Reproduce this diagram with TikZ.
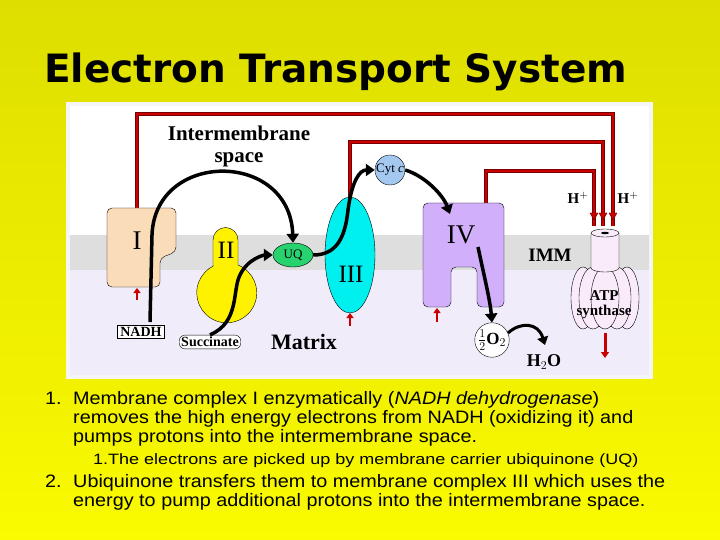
\documentclass[tikz,border=0pt]{standalone}
\usepackage{fontspec}
\setmainfont{Liberation Serif}
\newfontfamily\sansf{Liberation Sans}
\newfontfamily\titlef{DejaVu Sans}
\usetikzlibrary{arrows.meta,shapes.geometric}
\definecolor{bgY}{RGB}{222,222,0}
\definecolor{bgY2}{RGB}{250,250,0}
\definecolor{memb}{RGB}{222,222,222}
\definecolor{matrixc}{RGB}{240,236,250}
\definecolor{tanc}{RGB}{250,220,185}
\definecolor{cyanc}{RGB}{0,240,240}
\definecolor{purc}{RGB}{210,175,250}
\definecolor{greenc}{RGB}{40,210,110}
\definecolor{cytc}{RGB}{165,200,240}
\definecolor{redc}{RGB}{200,0,0}
\definecolor{dredc}{RGB}{120,0,0}
\definecolor{sync}{RGB}{250,235,250}
\tikzset{
 lbl/.style={font=\bfseries},
 pline/.style={dredc,line width=4.5pt},
 pline2/.style={redc,line width=2.5pt},
 earrow/.style={line width=3.5pt,-{Triangle[length=9pt,width=12pt]}},
 smallred/.style={redc,line width=2.5pt,-{Triangle[length=5pt,width=7pt]}},
 body/.style={anchor=base west,inner sep=0pt,xscale=1.1,transform shape,font=\sansf\fontsize{18}{20}\selectfont},
 subbody/.style={anchor=base west,inner sep=0pt,xscale=1.2,transform shape,font=\sansf\fontsize{15}{17}\selectfont}
}
\begin{document}
\begin{tikzpicture}[x=1pt,y=-1pt]
\useasboundingbox (0,0) rectangle (720,540);
\shade[top color=bgY,bottom color=bgY2] (0,0) rectangle (720,540);
\node[anchor=base west,inner sep=0pt,font=\titlef\bfseries\fontsize{39}{44}\selectfont] (title) at (44,83) {Electron Transport System};
% panel
\fill[white!92!gray] (66,102) rectangle (653,379);
\fill[white] (70,106) rectangle (649,375);
\fill[memb] (70,235) rectangle (649,270);
\fill[matrixc] (70,270) rectangle (649,375);
% proton lines
\coordinate (p1a) at (137,208); \coordinate (p1b) at (137,114); \coordinate (p1c) at (613,114); \coordinate (p1d) at (613,220);
\coordinate (p2a) at (350,198); \coordinate (p2b) at (350,142); \coordinate (p2c) at (603,142); \coordinate (p2d) at (603,220);
\coordinate (p3a) at (486,203); \coordinate (p3b) at (486,171); \coordinate (p3c) at (594,171); \coordinate (p3d) at (594,220);
\foreach \s in {pline,pline2}{
 \draw[\s] (p1a) -- (p1b) -- (p1c) -- ([yshift=-6]p1d);
 \draw[\s] (p2a) -- (p2b) -- (p2c) -- ([yshift=-6]p2d);
 \draw[\s] (p3a) -- (p3b) -- (p3c) -- ([yshift=-6]p3d);
}
\foreach \p in {p1d,p2d,p3d}{\fill[redc,draw=dredc] (\p) -- ++(-4,-7) -- ++(8,0) -- cycle;}
\node[lbl,font=\bfseries\fontsize{15}{15}\selectfont] (hp1) at (578,198) {H$^{+}$};
\node[lbl,font=\bfseries\fontsize{15}{15}\selectfont] (hp2) at (628,198) {H$^{+}$};
% labels
\node[lbl,font=\bfseries\fontsize{21}{22}\selectfont,align=center] (ims) at (239,146) {Intermembrane\\space};
\node[lbl,font=\bfseries\fontsize{22}{22}\selectfont] (matrix) at (304,342) {Matrix};
\node[lbl,font=\bfseries\fontsize{19}{20}\selectfont] (imm) at (550,255) {IMM};
% complex I
\draw[fill=tanc,rounded corners=5pt] (107,208) -- (176,208) -- (176,252) -- (160,258) -- (160,287) -- (107,287) -- cycle;
\node[font=\fontsize{27}{27}\selectfont] (c1) at (137,241) {I};
\draw[smallred] (137,300) -- (137,288);
\node[draw,fill=white,lbl,font=\bfseries\fontsize{14}{14}\selectfont,inner sep=2pt,minimum width=47pt] (nadh) at (141,332) {NADH};
% complex II
\draw[fill=yellow] (213,265) -- (213,240) arc (180:360:12.5) -- (238,265) arc (-68:243:30) -- cycle;
\node[font=\fontsize{25}{25}\selectfont] (c2) at (226,250) {II};
\node[draw,fill=white,rounded corners=6pt,lbl,font=\bfseries\fontsize{14}{14}\selectfont,inner sep=2pt] (succ) at (210,342) {Succinate};
% UQ
\node[ellipse,draw,fill=greenc,minimum width=40pt,minimum height=24pt,inner sep=0pt,font=\fontsize{13}{13}\selectfont] (uq) at (293,255) {UQ};
% complex III
\node[ellipse,draw,fill=cyanc,minimum width=50pt,minimum height=116pt] (c3) at (350,255) {};
\node[font=\fontsize{25}{25}\selectfont] (c3l) at (351,274) {III};
\draw[smallred] (350,326) -- (350,313);
% Cyt c
\node[circle,draw,fill=cytc,minimum size=28pt,inner sep=0pt,font=\fontsize{13}{13}\selectfont] (cyt) at (390,170) {Cyt \textit{c}};
% complex IV
\draw[fill=purc,rounded corners=5pt] (423,203) -- (504,203) -- (504,307) -- (477,307) -- (477,267) -- (451,267) -- (451,307) -- (423,307) -- cycle;
\node[font=\fontsize{27}{27}\selectfont] (c4) at (461,235) {IV};
\draw[smallred] (437,322) -- (437,308);
% ATP synthase
\foreach \dx/\w in {-22/12,22/12,-12/14,12/14,0/14}{\draw[fill=sync] (605+\dx,298) ellipse ({\w} and 31);}
\draw[fill=sync] (591,233) -- (591,268) arc (180:0:14 and 4) -- (619,233);
\draw[fill=sync] (605,233) ellipse (14 and 4);
\fill (605,233) ellipse (4 and 1.2);
\node[lbl,font=\bfseries\fontsize{15}{15}\selectfont,align=center] (atp) at (604,305) {ATP\\synthase};
\draw[redc,line width=3pt,-{Triangle[length=6pt,width=8pt]}] (605,333) -- (605,358);
% O2 and H2O
\node[circle,draw,fill=white,minimum size=33pt,inner sep=0pt,font=\bfseries\fontsize{17}{17}\selectfont] (o2) at (492,340) {$\frac{1}{2}$O$_2$};
\node[lbl,font=\bfseries\fontsize{18}{18}\selectfont] (h2o) at (544,362) {H$_2$O};
% electron arrows
\draw[earrow] (150,322) -- (152,235) .. controls (155,150) and (290,150) .. (uq.north);
\draw[earrow] (succ.north) .. controls (240,322) and (232,290) .. (240,275) .. controls (248,258) and (265,255) .. (uq.west);
\draw[earrow] (uq.east) .. controls (335,255) and (345,240) .. (348,210) .. controls (352,180) and (360,170) .. (cyt.west);
\draw[earrow] (cyt.east) .. controls (425,176) and (443,195) .. (450,214);
\draw[earrow] (478,247) .. controls (485,280) and (490,300) .. (o2.north);
\draw[line width=3pt,-{Triangle[length=8pt,width=11pt]}] (508,333) .. controls (520,322) and (538,322) .. (545,345);
% text
\node[body] (n1) at (45,404) {1.};
\node[body] (t1a) at (73,404) {Membrane complex I enzymatically (\textit{NADH dehydrogenase})};
\node[body] (t1b) at (73,423) {removes the high energy electrons from NADH (oxidizing it) and};
\node[body] (t1c) at (73,442) {pumps protons into the intermembrane space.};
\node[subbody] (n11) at (93,464) {1.};
\node[subbody] (t11) at (108,464) {The electrons are picked up by membrane carrier ubiquinone (UQ)};
\node[body] (n2) at (45,487) {2.};
\node[body] (t2a) at (73,487) {Ubiquinone transfers them to membrane complex III which uses the};
\node[body] (t2b) at (73,506) {energy to pump additional protons into the intermembrane space.};
\end{tikzpicture}
\end{document}
